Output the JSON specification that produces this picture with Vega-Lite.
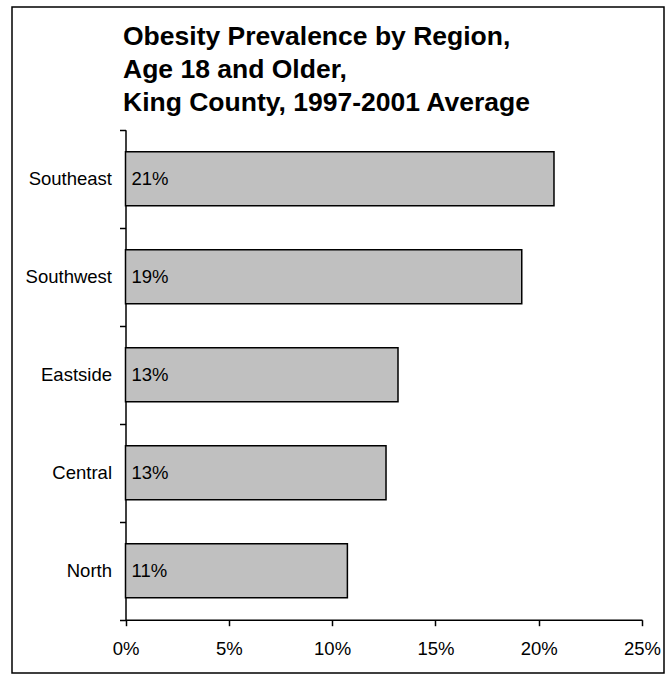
{
  "$schema": "https://vega.github.io/schema/vega-lite/v6.json",
  "width": 652,
  "height": 666,
  "autosize": {"type": "none"},
  "padding": {"left": 12, "top": 7, "right": 5, "bottom": 2},
  "background": "white",
  "title": {
    "text": ["Obesity Prevalence by Region,", "Age 18 and Older,", "King County, 1997-2001 Average"],
    "orient": "top",
    "anchor": "start",
    "frame": "group",
    "baseline": "top",
    "offset": -15,
    "dx": 111,
    "dy": 103,
    "font": "Liberation Sans",
    "fontSize": 26.5,
    "fontWeight": "bold",
    "lineHeight": 33,
    "color": "black"
  },
  "data": {
    "values": [
      {"region": "Southeast", "prevalence": 0.2074},
      {"region": "Southwest", "prevalence": 0.1918},
      {"region": "Eastside", "prevalence": 0.1319},
      {"region": "Central", "prevalence": 0.1261},
      {"region": "North", "prevalence": 0.1074}
    ]
  },
  "encoding": {
    "y": {
      "field": "region",
      "type": "nominal",
      "sort": null,
      "scale": {"range": [122.7, 612.7], "paddingInner": 0, "paddingOuter": 0},
      "axis": {
        "title": null,
        "orient": "left",
        "offset": -113.5,
        "tickBand": "extent",
        "tickSize": 6,
        "tickWidth": 1.5,
        "tickColor": "black",
        "domainColor": "black",
        "domainWidth": 1.5,
        "labelFont": "Liberation Sans",
        "labelFontSize": 18.5,
        "labelColor": "black",
        "labelPadding": 8,
        "grid": false
      }
    }
  },
  "layer": [
    {
      "mark": {"type": "bar", "height": {"band": 0.55}, "fill": "#c0c0c0", "stroke": "black", "strokeWidth": 1.5},
      "encoding": {
        "x": {
          "field": "prevalence",
          "type": "quantitative",
          "scale": {"domain": [0, 0.25], "range": [113.5, 630], "nice": false},
          "axis": {
            "title": null,
            "orient": "bottom",
            "offset": -53.3,
            "values": [0, 0.05, 0.1, 0.15, 0.2, 0.25],
            "format": ".0%",
            "tickSize": 6,
            "tickWidth": 1.5,
            "tickColor": "black",
            "domainColor": "black",
            "domainWidth": 1.5,
            "labelFont": "Liberation Sans",
            "labelFontSize": 18.5,
            "labelColor": "black",
            "labelPadding": 14,
            "labelFlush": false,
            "grid": false
          }
        }
      }
    },
    {
      "mark": {"type": "text", "align": "left", "baseline": "middle", "dx": 6, "font": "Liberation Sans", "fontSize": 18.5, "color": "black"},
      "encoding": {
        "x": {"datum": 0, "type": "quantitative"},
        "text": {"field": "prevalence", "type": "quantitative", "format": ".0%"}
      }
    }
  ],
  "config": {
    "view": {"stroke": "black", "strokeWidth": 1.5, "fill": "white"}
  }
}
